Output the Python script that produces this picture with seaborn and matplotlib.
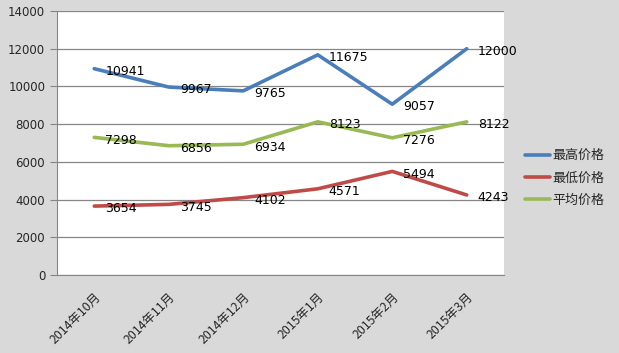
import pandas as pd
import matplotlib
matplotlib.use("Agg")
import matplotlib.pyplot as plt
import seaborn as sns
import numpy as np

# data
months = ["2014年10月", "2014年11月", "2014年12月", "2015年1月", "2015年2月", "2015年3月"]
series_names = ["最高价格", "最低价格", "平均价格"]
max_price = [10941, 9967, 9765, 11675, 9057, 12000]
min_price = [3654, 3745, 4102, 4571, 5494, 4243]
avg_price = [7298, 6856, 6934, 8123, 7276, 8122]
colors = ["#4a7ebb", "#be4b48", "#98b954"]

sns.set_style("white")
plt.rcParams["font.family"] = ["Noto Sans CJK SC", "DejaVu Sans"]

df = pd.DataFrame({
    "月份": months * 3,
    "idx": list(range(len(months))) * 3,
    "价格": max_price + min_price + avg_price,
    "系列": [s for s in series_names for _ in months],
})

fig = plt.figure(figsize=(6.19, 3.53), dpi=100, facecolor="#d9d9d9")
ax = fig.add_axes([57 / 619, 1 - 275 / 353, (504 - 57) / 619, (275 - 11) / 353])
ax.set_facecolor("white")

sns.lineplot(data=df, x="idx", y="价格", hue="系列", palette=colors,
             linewidth=2.6, ax=ax, legend=True)

# data labels to the right of each point
for _, row in df.iterrows():
    ax.annotate(f"{row['价格']}", (row["idx"], row["价格"]), xytext=(8, -2),
                textcoords="offset points", fontsize=9, va="center", ha="left",
                color="black", family=["DejaVu Sans"], annotation_clip=False)

ax.set_xlim(-0.5, len(months) - 0.5)
ax.set_ylim(0, 14000)
ax.set_yticks(np.arange(0, 14001, 2000))
ax.yaxis.grid(True, color="#868686", linewidth=0.9)
ax.set_axisbelow(True)

ax.set_xticks(range(len(months)))
ax.set_xticklabels(months, rotation=45, ha="right", rotation_mode="anchor", fontsize=8.9)
ax.set_xticks(np.arange(-0.5, len(months)), minor=True)
ax.tick_params(axis="x", which="major", length=0, pad=11)
ax.tick_params(axis="x", which="minor", length=5, color="#868686", direction="out")
ax.tick_params(axis="y", length=5, color="#868686", direction="out", labelsize=8.5, left=True)
for lab in ax.get_yticklabels():
    lab.set_family(["DejaVu Sans"])

for side in ["top", "right"]:
    ax.spines[side].set_visible(False)
for side in ["left", "bottom"]:
    ax.spines[side].set_color("#868686")
ax.set_xlabel("")
ax.set_ylabel("")

handles, labels = ax.get_legend_handles_labels()
ax.legend(handles, labels, loc="center left", bbox_to_anchor=(513 / 619, 1 - 178 / 353),
          bbox_transform=fig.transFigure, frameon=False, fontsize=9.4,
          handlelength=1.9, handletextpad=0.25, labelspacing=0.7)

fig.savefig("out.png", dpi=100, facecolor=fig.get_facecolor())
